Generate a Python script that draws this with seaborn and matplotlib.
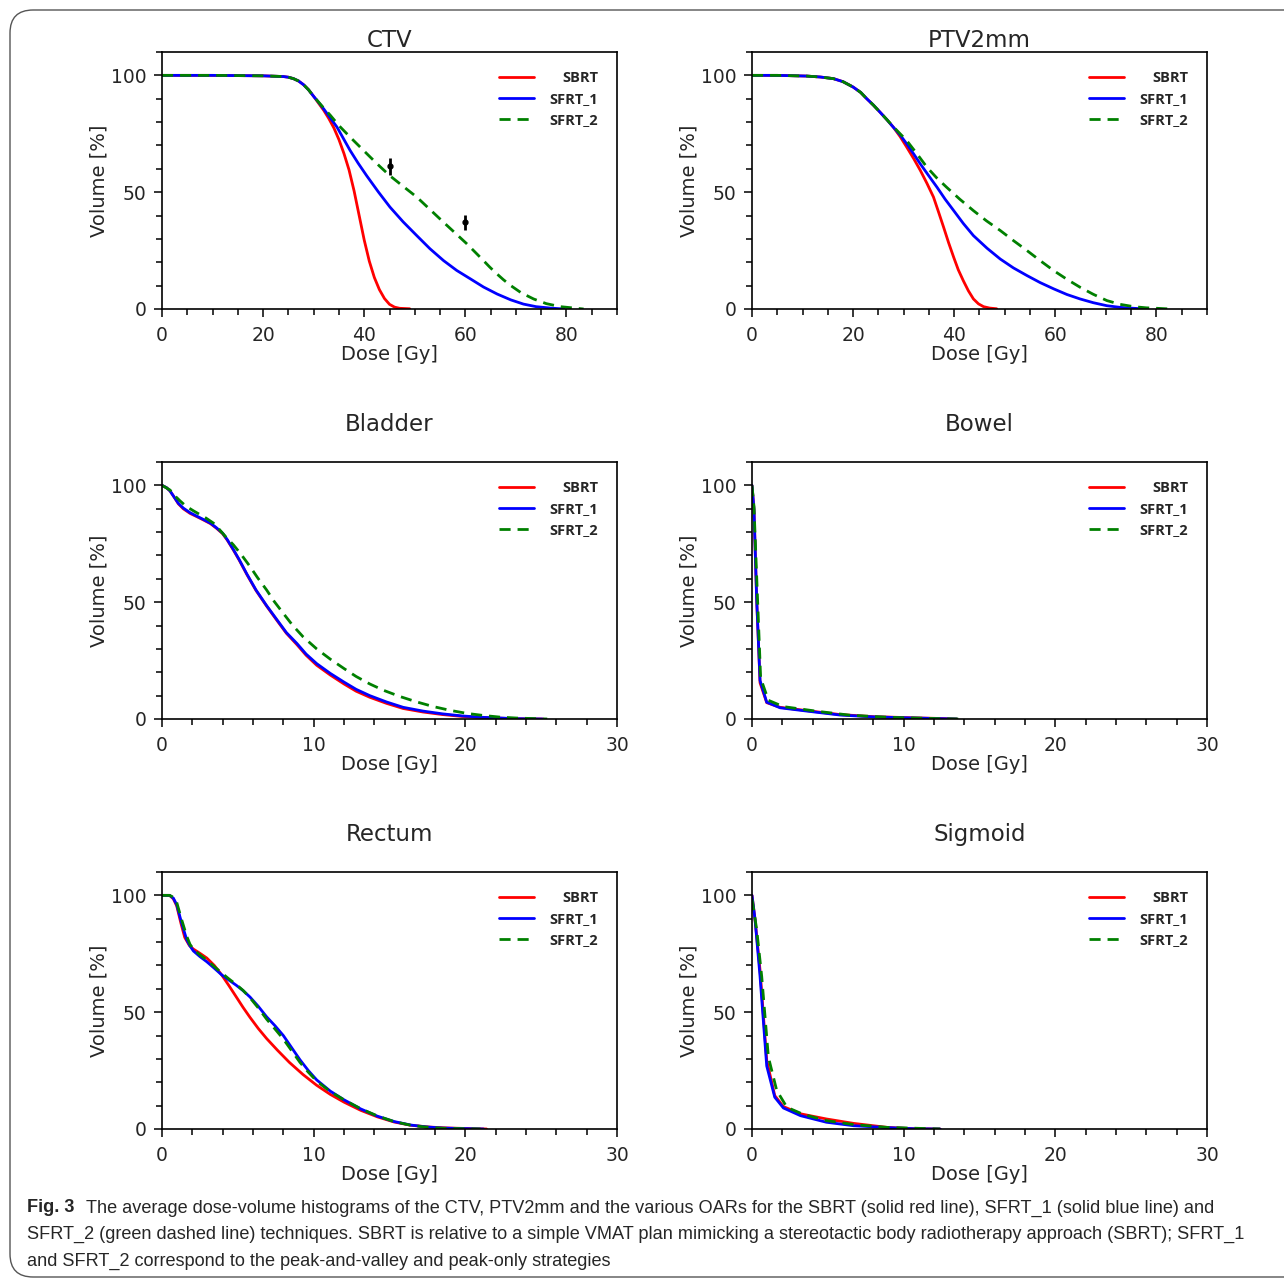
import numpy as np
import pandas as pd
import matplotlib
matplotlib.use("Agg")
import matplotlib.pyplot as plt
from matplotlib.patches import FancyBboxPatch
from matplotlib.ticker import MultipleLocator
import seaborn as sns

# ---- data (dose in Gy, volume in %) ----
techniques = ["SBRT", "SFRT_1", "SFRT_2"]

ctv_sbrt_dose = [0, 10, 20, 24, 25, 26, 27, 28, 29, 30, 31, 32, 33, 34, 35, 36, 37, 38, 39, 40, 41, 42, 43, 44, 45, 46, 47, 49]
ctv_sbrt_vol = [100, 100, 99.8, 99.5, 99.2, 98.6, 97.6, 96, 93.8, 91, 88, 85, 81.5, 77.5, 72.5, 66.5, 59.5, 50.5, 40, 29.5, 20.5, 13.5, 8.3, 4.5, 2, 0.8, 0.3, 0.1]
ctv_sfrt1_dose = [0, 10, 20, 24, 25, 26, 27, 28, 29, 30, 31, 32, 33, 34.6, 37.2, 38.8, 40.5, 42.8, 45.1, 47.7, 50.4, 53, 55.7, 58.3, 61, 63.6, 66.3, 69, 71.5, 74, 76.8, 79.5]
ctv_sfrt1_vol = [100, 100, 99.8, 99.5, 99.2, 98.6, 97.6, 96, 93.8, 91, 88.4, 85.6, 82.6, 77.9, 67.9, 62.4, 57, 50.1, 43.6, 37.3, 31.4, 25.8, 20.7, 16.5, 12.9, 9.4, 6.4, 3.9, 2.1, 1.0, 0.4, 0]
ctv_sfrt2_dose = [0, 10, 20, 24, 25, 26, 27, 28, 29, 30, 31, 32, 33.3, 35, 37.2, 39.2, 41.2, 43.1, 45.1, 47.7, 50.4, 53, 55.7, 58, 60.3, 62, 63.6, 64.8, 66, 67.5, 69, 71, 73.5, 76, 78.8, 83.4]
ctv_sfrt2_vol = [100, 100, 99.8, 99.5, 99.2, 98.6, 97.6, 96, 93.8, 91, 88.5, 86, 82.9, 78.5, 73.6, 69.3, 65, 61, 57, 52.5, 47.9, 42.6, 37.1, 32.5, 27.9, 24.2, 20.7, 18, 15.5, 12.6, 10, 7, 4.3, 2.3, 1, 0]
ctv_err_dose = [45, 60]
ctv_err_vol = [61, 37.2]
ctv_err_sd = [3.5, 3.2]

ptv_sbrt_dose = [0, 5, 10.8, 13.5, 16.1, 18, 20, 21.5, 22.7, 24, 25.3, 26.7, 28, 29.3, 30.6, 32, 33.3, 34.6, 35.9, 36.9, 37.9, 38.9, 39.9, 40.8, 41.8, 42.8, 43.8, 44.8, 45.8, 47, 48.4]
ptv_sbrt_vol = [100, 100, 99.7, 99.3, 98.6, 97.3, 95, 92.7, 90, 87.3, 84.3, 81, 77.7, 73.8, 69.3, 64.3, 59.3, 53.8, 47.9, 41.5, 35, 28.3, 22.1, 16.8, 12.1, 7.8, 4.3, 2.2, 1, 0.4, 0.1]
ptv_sfrt1_dose = [0, 5, 10.8, 13.5, 16.1, 18, 20, 21.5, 22.7, 24, 25.3, 26.7, 28, 29.3, 30.6, 32, 33.3, 35, 36.6, 38.2, 39.9, 41.8, 43.8, 46.5, 49.1, 51.7, 54.4, 57, 59.7, 62.3, 64.9, 67.5, 70.2, 72.8, 75.5, 78.2]
ptv_sfrt1_vol = [100, 100, 99.7, 99.3, 98.6, 97.3, 95, 92.7, 90, 87.3, 84.3, 81, 77.7, 74.5, 70.7, 66.3, 62.1, 56.9, 52.1, 47, 42.1, 36.6, 31.4, 26, 21.4, 17.6, 14.3, 11.3, 8.6, 6.2, 4.3, 2.7, 1.4, 0.7, 0.3, 0]
ptv_sfrt2_dose = [0, 5, 10.8, 13.5, 16.1, 18, 20, 21.5, 22.7, 24, 25.3, 26.7, 28, 29.3, 30.6, 32.6, 34.6, 36.5, 38.5, 41.1, 43.8, 46.4, 49.1, 51.7, 54.4, 57, 59.7, 62.3, 64.9, 67.5, 70.2, 72.8, 75.5, 78, 80.1, 82.8]
ptv_sfrt2_vol = [100, 100, 99.7, 99.3, 98.6, 97.3, 95, 92.7, 90, 87.3, 84.3, 81, 77.9, 75, 72.1, 66.5, 60.7, 56.2, 52.1, 47, 42.1, 37.7, 33.6, 29.3, 25, 20.7, 16.4, 12.7, 9.3, 6.3, 3.6, 2, 1, 0.5, 0.3, 0]

bladder_sbrt_dose = [0, 0.3, 0.53, 0.8, 1.08, 1.4, 1.85, 2.3, 2.7, 3.2, 3.6, 4.0, 4.3, 4.7, 5.1, 5.6, 6.2, 6.9, 7.6, 8.2, 8.9, 9.5, 10.2, 11.1, 12, 12.8, 13.7, 14.8, 15.9, 17.2, 18.5, 19.8, 21.2, 23.4, 25.1]
bladder_sbrt_vol = [100, 99, 97.6, 95, 92.1, 90, 88, 86.6, 85.3, 83.6, 81.6, 79.3, 76.6, 72.4, 67.9, 61.8, 55, 48.3, 42, 36.7, 31.8, 27.3, 23, 18.8, 15, 11.9, 9.3, 6.7, 4.5, 3, 1.9, 1.1, 0.6, 0.1, 0]
bladder_sfrt1_dose = [0, 0.3, 0.53, 0.8, 1.08, 1.4, 1.85, 2.3, 2.7, 3.2, 3.6, 4.0, 4.3, 4.7, 5.1, 5.6, 6.2, 6.9, 7.6, 8.2, 8.9, 9.5, 10.2, 11.1, 12, 12.8, 13.7, 14.8, 15.9, 17.2, 18.5, 19.8, 21.2, 23.4, 25.1]
bladder_sfrt1_vol = [100, 99, 97.6, 95, 92.3, 90.3, 88.3, 86.8, 85.5, 83.8, 81.8, 79.5, 76.8, 72.6, 68.1, 62, 55.2, 48.5, 42.3, 37, 32.3, 27.8, 23.7, 19.5, 15.8, 12.7, 10, 7.3, 5, 3.4, 2.2, 1.3, 0.7, 0.14, 0]
bladder_sfrt2_dose = [0, 0.53, 0.85, 1.2, 1.6, 2.1, 2.5, 2.9, 3.4, 3.8, 4.2, 4.7, 5.2, 5.8, 6.3, 6.9, 7.4, 8, 8.6, 9.3, 10.2, 11.1, 12, 12.8, 13.7, 14.6, 15.7, 16.8, 17.9, 19, 20.1, 21.2, 22.3, 23.4, 25.4]
bladder_sfrt2_vol = [100, 98, 95.5, 93.3, 91, 89, 87.5, 86, 83.8, 81, 78, 74.6, 70.6, 65.3, 60.5, 55.2, 50.3, 45.2, 40.2, 35.2, 30, 25.6, 21.6, 18.2, 15, 12.3, 9.6, 7.3, 5.3, 3.7, 2.4, 1.5, 0.8, 0.4, 0]

bowel_sbrt_dose = [0, 0.13, 0.31, 0.53, 0.97, 1.85, 3.6, 5.8, 8, 10.2, 12.8, 13.5]
bowel_sbrt_vol = [100, 89.7, 50.9, 15.5, 7, 5, 3.6, 1.9, 1, 0.6, 0.15, 0]
bowel_sfrt1_dose = [0, 0.13, 0.31, 0.53, 0.97, 1.85, 3.6, 5.8, 8, 10.2, 12.8, 13.5]
bowel_sfrt1_vol = [100, 89.7, 50.9, 16.5, 7.2, 4.8, 3.4, 1.7, 0.9, 0.5, 0.1, 0]
bowel_sfrt2_dose = [0, 0.13, 0.35, 0.57, 1.08, 2.07, 4.3, 6.5, 9.1, 12.4, 13.6]
bowel_sfrt2_vol = [100, 91, 54, 17.5, 8, 5.3, 3.3, 1.6, 0.7, 0.15, 0]

rectum_sbrt_dose = [0, 0.5, 0.75, 0.97, 1.25, 1.5, 1.8, 2.07, 2.5, 2.95, 3.45, 3.93, 4.4, 4.9, 5.35, 5.8, 6.35, 6.9, 7.6, 8.4, 9.3, 10.2, 11.1, 12, 13.1, 14.2, 15.3, 16.4, 17.7, 19, 21.4]
rectum_sbrt_vol = [100, 100, 98.5, 95.5, 88, 82, 78.6, 77, 75.2, 73.2, 70, 66, 61.5, 56.5, 52, 47.8, 43, 38.7, 33.8, 28.5, 23.3, 18.7, 14.8, 11.5, 8, 5.2, 3, 1.6, 0.8, 0.4, 0]
rectum_sfrt1_dose = [0, 0.5, 0.75, 0.97, 1.3, 1.63, 1.85, 2.07, 2.5, 2.95, 3.45, 3.93, 4.4, 4.9, 5.35, 5.8, 6.35, 6.9, 7.45, 8, 8.55, 9.1, 9.65, 10.2, 11.1, 12, 13.1, 14.2, 15.3, 16.4, 17.4, 18.5, 21.2]
rectum_sfrt1_vol = [100, 100, 98.8, 96, 88, 81, 78.3, 76.2, 73.8, 71.6, 68.8, 66, 63.8, 61.5, 59.2, 56.5, 52.5, 48, 44.2, 40, 34.8, 29.6, 25, 21, 16.2, 12.5, 8.6, 5.5, 3.2, 1.7, 0.9, 0.4, 0]
rectum_sfrt2_dose = [0, 0.5, 0.75, 0.97, 1.3, 1.63, 1.85, 2.07, 2.5, 2.95, 3.45, 3.93, 4.4, 4.9, 5.35, 5.8, 6.35, 6.9, 7.45, 8, 8.55, 9.1, 9.65, 10.2, 11.1, 12, 13.1, 14.2, 15.3, 16.4, 17.4, 18.5, 21]
rectum_sfrt2_vol = [100, 100, 99.2, 97, 89.5, 82.5, 79, 77, 74.5, 72.3, 69.5, 66.8, 64.3, 61.8, 59.3, 56.2, 51.8, 47, 42.8, 38.5, 33.5, 28.5, 24.3, 20.5, 16, 12.5, 8.7, 5.6, 3.2, 1.6, 0.8, 0.3, 0]

sigmoid_sbrt_dose = [0, 0.2, 0.53, 0.97, 1.5, 2.07, 3.2, 4.9, 6.7, 8.9, 10.6, 12.4]
sigmoid_sbrt_vol = [100, 89.7, 68, 29.4, 14.3, 9.6, 6.5, 4.3, 2.4, 0.7, 0.14, 0]
sigmoid_sfrt1_dose = [0, 0.2, 0.53, 0.97, 1.5, 2.07, 3.2, 4.9, 6.7, 8.9, 10.6, 12.4]
sigmoid_sfrt1_vol = [100, 89.7, 65.3, 27, 13.6, 9, 5.7, 2.9, 1.4, 0.6, 0.14, 0]
sigmoid_sfrt2_dose = [0, 0.31, 0.64, 1.08, 1.63, 2.3, 3.4, 4.9, 6.7, 8.9, 12.4]
sigmoid_sfrt2_vol = [98.3, 85.4, 65.3, 30.8, 16.5, 9.3, 6.2, 3.6, 1.9, 0.7, 0]

caption_lines = [
    "The average dose-volume histograms of the CTV, PTV2mm and the various OARs for the SBRT (solid red line), SFRT_1 (solid blue line) and",
    "SFRT_2 (green dashed line) techniques. SBRT is relative to a simple VMAT plan mimicking a stereotactic body radiotherapy approach (SBRT); SFRT_1",
    "and SFRT_2 correspond to the peak-and-valley and peak-only strategies",
]

panels = [
    ("CTV", (ctv_sbrt_dose, ctv_sbrt_vol), (ctv_sfrt1_dose, ctv_sfrt1_vol), (ctv_sfrt2_dose, ctv_sfrt2_vol)),
    ("PTV2mm", (ptv_sbrt_dose, ptv_sbrt_vol), (ptv_sfrt1_dose, ptv_sfrt1_vol), (ptv_sfrt2_dose, ptv_sfrt2_vol)),
    ("Bladder", (bladder_sbrt_dose, bladder_sbrt_vol), (bladder_sfrt1_dose, bladder_sfrt1_vol), (bladder_sfrt2_dose, bladder_sfrt2_vol)),
    ("Bowel", (bowel_sbrt_dose, bowel_sbrt_vol), (bowel_sfrt1_dose, bowel_sfrt1_vol), (bowel_sfrt2_dose, bowel_sfrt2_vol)),
    ("Rectum", (rectum_sbrt_dose, rectum_sbrt_vol), (rectum_sfrt1_dose, rectum_sfrt1_vol), (rectum_sfrt2_dose, rectum_sfrt2_vol)),
    ("Sigmoid", (sigmoid_sbrt_dose, sigmoid_sbrt_vol), (sigmoid_sfrt1_dose, sigmoid_sfrt1_vol), (sigmoid_sfrt2_dose, sigmoid_sfrt2_vol)),
]

colors = {"SBRT": "#ff0000", "SFRT_1": "#0000ff", "SFRT_2": "#008000"}
styles = {"SBRT": "-", "SFRT_1": "-", "SFRT_2": (0, (4, 2.5))}

sns.set_style("ticks")
plt.rcParams["font.family"] = ["DejaVu Sans"]

W, H = 1284, 1280
fig = plt.figure(figsize=(W / 100, H / 100), dpi=100)

# rounded frame around the figure
frame = FancyBboxPatch((10 / W, 3 / H), 1.2, 1 - 13 / H, boxstyle="round,pad=0,rounding_size=0.018",
                       transform=fig.transFigure, facecolor="none", edgecolor="#555555", lw=1.0)
fig.patches.append(frame)

lefts = [162, 752]
tops = [52, 462, 872]
ax_w, ax_h = 455, 257

fig.canvas.draw()
renderer = fig.canvas.get_renderer()

for i, (name, *series) in enumerate(panels):
    row, col = divmod(i, 2)
    left = lefts[col] / W
    bottom = 1 - (tops[row] + ax_h) / H
    ax = fig.add_axes([left, bottom, ax_w / W, ax_h / H])

    for tech, (d, v) in zip(techniques, series):
        sns.lineplot(x=d, y=v, ax=ax, color=colors[tech], linestyle=styles[tech],
                     lw=2.0, sort=False, estimator=None, label=tech)

    if name == "CTV":
        ax.errorbar(ctv_err_dose, ctv_err_vol, yerr=ctv_err_sd, fmt="o", color="black",
                    ms=3.5, elinewidth=2, capsize=0, zorder=5)

    if row == 0:
        ax.set_xlim(0, 90)
        ax.xaxis.set_major_locator(MultipleLocator(20))
        ax.xaxis.set_minor_locator(MultipleLocator(5))
        ax.set_title(name, fontsize=16.5, pad=3)
    else:
        ax.set_xlim(0, 30)
        ax.xaxis.set_major_locator(MultipleLocator(10))
        ax.xaxis.set_minor_locator(MultipleLocator(2))
        ax.set_title(name, fontsize=16.5, pad=22)
    ax.set_ylim(0, 110)
    ax.yaxis.set_major_locator(MultipleLocator(50))
    ax.yaxis.set_minor_locator(MultipleLocator(10))

    ax.set_xlabel("Dose [Gy]", fontsize=14, labelpad=0)
    ax.set_ylabel("Volume [%]", fontsize=14, labelpad=2)
    ax.tick_params(which="major", direction="out", length=6, width=1.1, labelsize=13.5, pad=5, color="black")
    ax.tick_params(axis="x", which="major", pad=6.5)
    ax.tick_params(which="minor", direction="out", length=4, width=1.1, color="black")
    for s in ax.spines.values():
        s.set_visible(True)
        s.set_linewidth(1.2)
        s.set_color("black")

    leg = ax.legend(loc="upper right", frameon=False, handlelength=2.4, handletextpad=1.03,
                    labelspacing=0.49, borderaxespad=0.9,
                    prop={"family": "Open Sans", "weight": "bold", "size": 10.5})
    # right-align the legend labels
    texts = leg.get_texts()
    widths = [t.get_window_extent(renderer).width for t in texts]
    wmax = max(widths)
    for t, w in zip(texts, widths):
        t.set_position((wmax - w, 0))

# caption, sized so the first line spans the same width as in the original
cap_font = ["Liberation Sans", "DejaVu Sans"]
cap_y = [1208, 1234, 1261]
size = 13.0
probe = fig.text(86 / W, 1 - cap_y[0] / H, caption_lines[0], fontsize=size, va="center", family=cap_font)
width = probe.get_window_extent(renderer).width
size = size * (1218 - 86) / width
probe.set_fontsize(size)

fig.text(27 / W, 1 - cap_y[0] / H, "Fig. 3", fontsize=size, fontweight="bold", va="center", family=cap_font)
for y, line in zip(cap_y[1:], caption_lines[1:]):
    fig.text(27 / W, 1 - y / H, line, fontsize=size, va="center", family=cap_font)

fig.savefig("out.png", dpi=100)
